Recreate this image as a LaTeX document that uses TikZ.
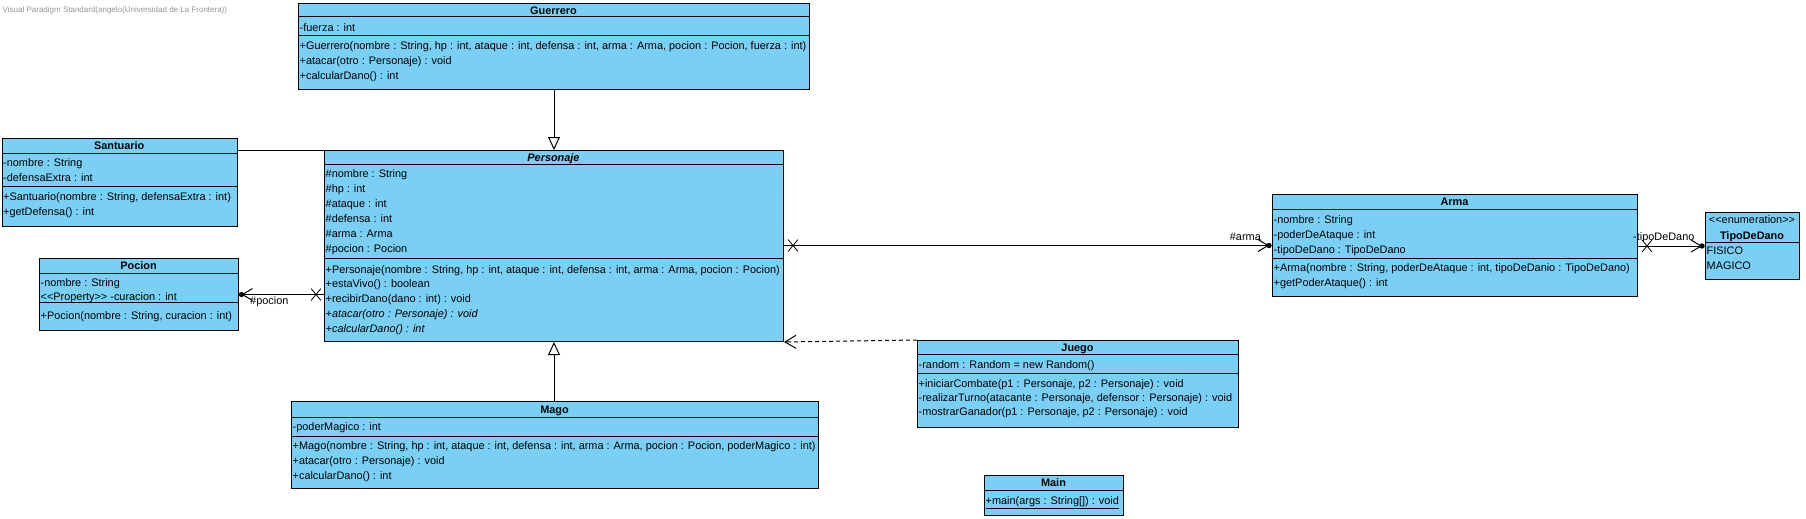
\documentclass[tikz,border=0pt]{standalone}
\usepackage{fontspec}
\setmainfont{Liberation Sans}
\usetikzlibrary{positioning,arrows.meta,shapes.misc}
\definecolor{classblue}{RGB}{122,207,245}
\definecolor{markgray}{RGB}{150,150,150}
\tikzset{
  classbox/.style={draw, fill=classblue, line width=1pt, anchor=north west, inner sep=0pt},
  classname/.style={font=\bfseries\fontsize{10.9pt}{13pt}\selectfont, inner sep=0pt, text height=8pt, text depth=0pt},
  member/.style={font=\fontsize{10.9pt}{13pt}\selectfont, anchor=base west, inner sep=0pt},
  rolelabel/.style={font=\fontsize{10.9pt}{13pt}\selectfont, inner sep=0pt},
  watermark/.style={font=\fontsize{8pt}{9pt}\selectfont, text=markgray, anchor=base west, inner sep=0pt},
  inherit/.style={line width=1pt, -{Triangle[open, length=13pt, width=12pt]}},
  assoc/.style={line width=1pt, -{Straight Barb[length=10pt, width=12pt]}},
  depend/.style={line width=1pt, dash pattern=on 4pt off 3pt, -{Straight Barb[length=11pt, width=13pt]}},
  endx/.style={cross out, draw, line width=0.8pt, minimum width=9pt, minimum height=11pt, inner sep=0pt},
}

\begin{document}
\begin{tikzpicture}[x=1pt, y=-1pt]
    % Canvas
    \path[fill=white] (0,0) rectangle (1806,519);
    \useasboundingbox (0,0) rectangle (1806,519);
    \node[watermark] (mark) at (2.5,12.5) {Visual Paradigm Standard(angelo(Universidad de La Frontera))};

    % Guerrero
    \node[classbox, minimum width=511pt, minimum height=86pt] (guerrero) at (298,3) {};
    \draw[line width=1pt] (298,17) -- (809,17);
    \draw[line width=1pt] (298,36) -- (809,36);
    \node[classname] (guerrero-title) at (553.5,10.5) {Guerrero};
    \node[member] (guerrero-attr) at (299.5,31.5) {-fuerza : int};
    \foreach \m [count=\i from 0] in {{+Guerrero(nombre : String, hp : int, ataque : int, defensa : int, arma : Arma, pocion : Pocion, fuerza : int)}, {+atacar(otro : Personaje) : void}, {+calcularDano() : int}} {
        \node[member] (guerrero-op-\i) at (299.5,{49.5+15*\i}) {\m};
    }

    % Santuario
    \node[classbox, minimum width=235.5pt, minimum height=88pt] (santuario) at (1.5,138) {};
    \draw[line width=1pt] (1.5,153) -- (237,153);
    \draw[line width=1pt] (1.5,186) -- (237,186);
    \node[classname] (santuario-title) at (119.25,145.5) {Santuario};
    \foreach \m [count=\i from 0] in {{-nombre : String}, {-defensaExtra : int}} {
        \node[member] (santuario-attr-\i) at (3,{166.5+14.5*\i}) {\m};
    }
    \foreach \m [count=\i from 0] in {{+Santuario(nombre : String, defensaExtra : int)}, {+getDefensa() : int}} {
        \node[member] (santuario-op-\i) at (3,{200.5+14.5*\i}) {\m};
    }

    % Personaje
    \node[classbox, minimum width=459pt, minimum height=191pt] (personaje) at (324,150) {};
    \draw[line width=1pt] (324,164) -- (783,164);
    \draw[line width=1pt] (324,258) -- (783,258);
    \node[classname, font=\bfseries\itshape\fontsize{10.9pt}{13pt}\selectfont] (personaje-title) at (553.5,157) {Personaje};
    \foreach \m [count=\i from 0] in {{\#nombre : String}, {\#hp : int}, {\#ataque : int}, {\#defensa : int}, {\#arma : Arma}, {\#pocion : Pocion}} {
        \node[member] (personaje-attr-\i) at (325.5,{177.8+15*\i}) {\m};
    }
    \foreach \m [count=\i from 0] in {{+Personaje(nombre : String, hp : int, ataque : int, defensa : int, arma : Arma, pocion : Pocion)}, {+estaVivo() : boolean}, {+recibirDano(dano : int) : void}, {\itshape +atacar(otro : Personaje) : void}, {\itshape +calcularDano() : int}} {
        \node[member] (personaje-op-\i) at (325.5,{273+14.8*\i}) {\m};
    }

    % Pocion
    \node[classbox, minimum width=199pt, minimum height=72pt] (pocion) at (39,258) {};
    \draw[line width=1pt] (39,273) -- (238,273);
    \draw[line width=1pt] (39,302) -- (238,302);
    \node[classname] (pocion-title) at (138.5,265.5) {Pocion};
    \foreach \m [count=\i from 0] in {{-nombre : String}, {<\kern0pt<Property>\kern0pt> -curacion : int}} {
        \node[member] (pocion-attr-\i) at (40.5,{286.1+14.4*\i}) {\m};
    }
    \node[member] (pocion-op) at (40.5,319.8) {+Pocion(nombre : String, curacion : int)};

    % Arma
    \node[classbox, minimum width=365pt, minimum height=102pt] (arma) at (1272,194) {};
    \draw[line width=1pt] (1272,209) -- (1637,209);
    \draw[line width=1pt] (1272,258) -- (1637,258);
    \node[classname] (arma-title) at (1454.5,201.5) {Arma};
    \foreach \m [count=\i from 0] in {{-nombre : String}, {-poderDeAtaque : int}, {-tipoDeDano : TipoDeDano}} {
        \node[member] (arma-attr-\i) at (1273.5,{223.1+15*\i}) {\m};
    }
    \foreach \m [count=\i from 0] in {{+Arma(nombre : String, poderDeAtaque : int, tipoDeDanio : TipoDeDano)}, {+getPoderAtaque() : int}} {
        \node[member] (arma-op-\i) at (1273.5,{271.5+15*\i}) {\m};
    }

    % TipoDeDano
    \node[classbox, minimum width=94pt, minimum height=67pt] (tipodedano) at (1705,212) {};
    \draw[line width=1pt] (1705,242) -- (1799,242);
    \node[classname, font=\fontsize{10.9pt}{13pt}\selectfont] (tipodedano-stereo) at (1752,219.3) {<\kern0pt<enumeration>\kern0pt>};
    \node[classname] (tipodedano-title) at (1752,235) {TipoDeDano};
    \foreach \m [count=\i from 0] in {FISICO, MAGICO} {
        \node[member] (tipodedano-lit-\i) at (1706.5,{254.8+14.7*\i}) {\m};
    }

    % Juego
    \node[classbox, minimum width=321pt, minimum height=87pt] (juego) at (917,340) {};
    \draw[line width=1pt] (917,354) -- (1238,354);
    \draw[line width=1pt] (917,373) -- (1238,373);
    \node[classname] (juego-title) at (1077.5,347) {Juego};
    \node[member] (juego-attr) at (918.5,368.1) {-random : Random = new Random()};
    \foreach \m [count=\i from 0] in {{+iniciarCombate(p1 : Personaje, p2 : Personaje) : void}, {-realizarTurno(atacante : Personaje, defensor : Personaje) : void}, {-mostrarGanador(p1 : Personaje, p2 : Personaje) : void}} {
        \node[member] (juego-op-\i) at (918.5,{387.1+14.4*\i}) {\m};
    }

    % Mago
    \node[classbox, minimum width=527pt, minimum height=87pt] (mago) at (291,401) {};
    \draw[line width=1pt] (291,417) -- (818,417);
    \draw[line width=1pt] (291,436) -- (818,436);
    \node[classname] (mago-title) at (554.5,409.5) {Mago};
    \node[member] (mago-attr) at (292.5,430.8) {-poderMagico : int};
    \foreach \m [count=\i from 0] in {{+Mago(nombre : String, hp : int, ataque : int, defensa : int, arma : Arma, pocion : Pocion, poderMagico : int)}, {+atacar(otro : Personaje) : void}, {+calcularDano() : int}} {
        \node[member] (mago-op-\i) at (292.5,{449.1+15*\i}) {\m};
    }

    % Main
    \node[classbox, minimum width=139pt, minimum height=40pt] (main) at (984,475) {};
    \draw[line width=1pt] (984,490) -- (1123,490);
    \node[classname] (main-title) at (1053.5,482.5) {Main};
    \node[member] (main-op) at (985.5,504.1) {\underline{+main(args : String[]) : void}};

    % Generalizations
    \draw[inherit] (guerrero.south) -- (personaje.north);
    \draw[inherit] (personaje.south |- mago.north) -- (personaje.south);

    % Dependency
    \draw[depend] (juego.north west) -- (personaje.south east);

    % Santuario link
    \draw[line width=1pt] (santuario.east |- personaje.north west) -- (personaje.north west);

    % Associations
    \coordinate (pocionend) at ([xshift=2.5pt]pocion.east);
    \coordinate (pocionstart) at (personaje.west |- pocion.east);
    \coordinate (armaend) at ([xshift=-3pt]arma.west);
    \coordinate (armastart) at (personaje.east |- armaend);
    \coordinate (tipoend) at ([xshift=-3pt]tipodedano.west);
    \coordinate (tipostart) at (arma.east |- tipoend);
    \draw[assoc] (pocionstart) -- (pocionend);
    \draw[assoc] (armastart) -- (armaend);
    \draw[assoc] (tipostart) -- (tipoend);
    \foreach \point in {pocionend, armaend, tipoend} {
        \fill (\point) circle (2.7pt);
    }
    \node[endx, xshift=-8pt] (pocionx) at (pocionstart) {};
    \node[endx, xshift=9pt] (armax) at (armastart) {};
    \node[endx, xshift=9pt] (tipox) at (tipostart) {};

    % Role names
    \node[rolelabel, anchor=base west] (pocion-role) at (250,304.5) {\#pocion};
    \node[rolelabel, anchor=base east] (arma-role) at (1261,240.5) {\#arma};
    \node[rolelabel, anchor=base west] (tipo-role) at (1633,240.5) {-tipoDeDano};
\end{tikzpicture}
\end{document}
